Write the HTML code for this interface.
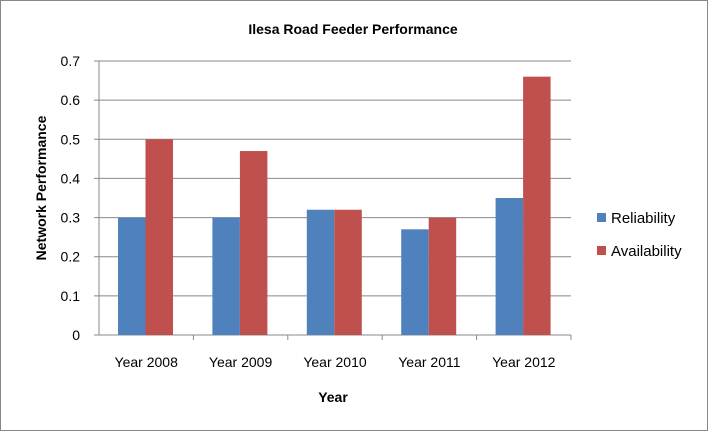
<!DOCTYPE html>
<html><head><meta charset="utf-8"><style>
body{margin:0;background:#fff;font-family:"Liberation Sans",Calibri,sans-serif}
svg text{font-family:"Liberation Sans",sans-serif;fill:#000}
</style></head><body>
<svg id="chart" width="708" height="431" xmlns="http://www.w3.org/2000/svg">
<rect x="0.5" y="0.5" width="707" height="430" fill="#fff" stroke="#888"/>
<text x="353" y="34" font-size="14" font-weight="bold" text-anchor="middle">Ilesa Road Feeder Performance</text>
<text transform="translate(46,188) rotate(-90)" font-size="14" font-weight="bold" text-anchor="middle">Network Performance</text>
<text x="333" y="402" font-size="14" font-weight="bold" text-anchor="middle">Year</text>
<g id="grid"></g><g id="bars"></g><g id="labels"></g>
<g>
<rect x="597" y="213" width="9" height="9" fill="#4f81bd"/>
<text x="611" y="223" font-size="15">Reliability</text>
<rect x="597" y="246" width="9" height="9" fill="#c0504d"/>
<text x="611" y="256" font-size="15">Availability</text>
</g>
</svg>
<script>
const categories=["Year 2008","Year 2009","Year 2010","Year 2011","Year 2012"];
const reliability=[0.30,0.30,0.32,0.27,0.35];
const availability=[0.50,0.47,0.32,0.30,0.66];
const yTicks=[0,0.1,0.2,0.3,0.4,0.5,0.6,0.7];
const NS="http://www.w3.org/2000/svg";
const x0=99,x1=571,yTop=61,yBot=335,yMax=0.7;
const y=v=>yBot-(v/yMax)*(yBot-yTop);
const bw=(x1-x0)/categories.length;
const grid=document.getElementById('grid'),bars=document.getElementById('bars'),labels=document.getElementById('labels');
function mk(tag,attrs,parent){const e=document.createElementNS(NS,tag);for(const k in attrs)e.setAttribute(k,attrs[k]);parent.appendChild(e);return e;}
yTicks.forEach((t,i)=>{
  const l=mk('line',{x1:x0-5,x2:x1,y1:y(t),y2:y(t),stroke:'#888','stroke-width':1},grid);
  
  
  const tx=mk('text',{x:x0-19,y:y(t)+5,'font-size':14,'text-anchor':'end'},labels);
  tx.textContent=String(t);
  
  
});
const ax=mk('line',{x1:x0,x2:x0,y1:yTop,y2:yBot,stroke:'#888'},grid);


const barW=27.5;
categories.forEach((c,i)=>{
  const gx=x0+i*bw+19;
  const r1=mk('rect',{x:gx,y:y(reliability[i]),width:barW,height:yBot-y(reliability[i]),fill:'#4f81bd'},bars);
  
  
  const r2=mk('rect',{x:gx+barW,y:y(availability[i]),width:barW,height:yBot-y(availability[i]),fill:'#c0504d'},bars);
  
  
  const tk=mk('line',{x1:x0+(i+1)*bw,x2:x0+(i+1)*bw,y1:yBot,y2:yBot+5,stroke:'#888'},grid);
  
  
  const t=mk('text',{x:x0+i*bw+bw/2,y:yBot+32,'font-size':14,'text-anchor':'middle'},labels);
  t.textContent=c;
  
  
});
</script>
</body></html>
